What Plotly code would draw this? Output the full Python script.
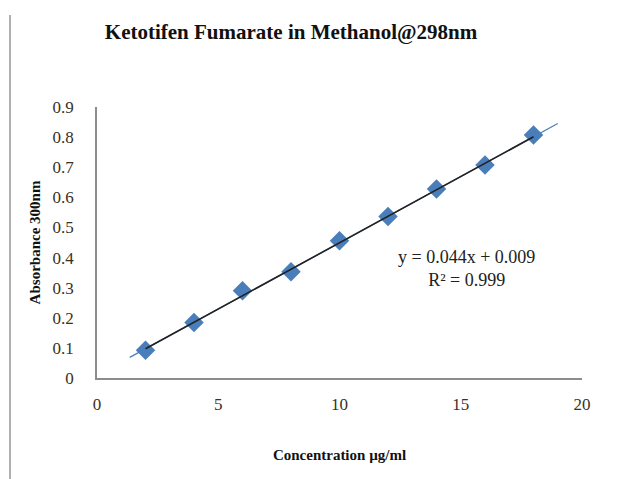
import plotly.graph_objects as go

concentration = [2, 4, 6, 8, 10, 12, 14, 16, 18]
absorbance = [0.092, 0.184, 0.290, 0.353, 0.456, 0.536, 0.628, 0.707, 0.807]
slope = 0.044
intercept = 0.009
trend_x = [1.35, 19.0]
trend_y = [slope * v + intercept for v in trend_x]
x_ticks = [0, 5, 10, 15, 20]
y_ticks = [0, 0.1, 0.2, 0.3, 0.4, 0.5, 0.6, 0.7, 0.8, 0.9]

serif = "Liberation Serif, Times New Roman, serif"
fig = go.Figure()
fig.add_trace(go.Scatter(x=trend_x, y=trend_y, mode="lines",
                         line=dict(color="#4a7ebb", width=1.2), showlegend=False))
fig.add_trace(go.Scatter(x=concentration, y=absorbance, mode="markers",
                         marker=dict(symbol="diamond", size=15, color="#4a7ebb"),
                         showlegend=False))
fig.add_trace(go.Scatter(x=[concentration[0], concentration[-1]],
                         y=[slope * concentration[0] + intercept, slope * concentration[-1] + intercept],
                         mode="lines", line=dict(color="#222222", width=1.6), showlegend=False))

fig.update_layout(
    width=617, height=479,
    margin=dict(l=97, r=35, t=107, b=101),
    paper_bgcolor="white", plot_bgcolor="white",
    font=dict(family=serif, size=17, color="#3a3024"),
    title=dict(text="<b>Ketotifen Fumarate in Methanol@298nm</b>",
               x=291 / 617, xanchor="center", y=1 - 32 / 479, yanchor="middle",
               font=dict(family=serif, size=21, color="#111111")),
    xaxis=dict(range=[0, 20], tickvals=x_ticks, showgrid=False, zeroline=False,
               showline=True, linecolor="#8c8c8c", linewidth=1.5, ticks="",
               ticklabelstandoff=10, tickfont=dict(size=17),
               title=dict(text="<b>Concentration µg/ml</b>", standoff=36,
                          font=dict(size=15, color="#111111"))),
    yaxis=dict(range=[0, 0.9], tickvals=y_ticks, showgrid=False, zeroline=False,
               showline=True, linecolor="#8c8c8c", linewidth=1.5, ticks="",
               ticklabelstandoff=18, tickfont=dict(size=17),
               title=dict(text="<b>Absorbance 300nm</b>", standoff=8,
                          font=dict(size=15, color="#111111"))),
    annotations=[dict(x=(466 - 97) / 24.25, y=(378 - 269) / 300.8, xref="x", yref="y",
                      text="y = 0.044x + 0.009<br>R² = 0.999", showarrow=False,
                      font=dict(family=serif, size=18, color="#222222"), align="center")],
    shapes=[dict(type="line", xref="paper", yref="paper",
                 x0=-87 / 485, x1=-87 / 485, y0=-101 / 271, y1=1 + 92 / 271,
                 line=dict(color="#b0b0b0", width=2))],
)
fig.write_html("out.html")
